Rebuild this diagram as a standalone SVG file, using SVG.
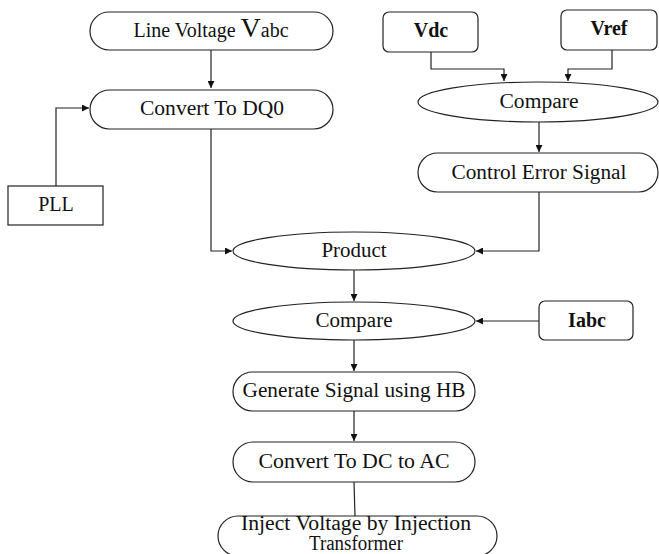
<svg xmlns="http://www.w3.org/2000/svg" width="659" height="554" viewBox="0 0 659 554">
<style>
.s{fill:#fff;stroke:#222;stroke-width:1.2}
.t{font-family:"Liberation Serif","Times New Roman",serif;font-size:20px;fill:#111;text-anchor:middle}
.b{font-weight:bold}
.c{fill:none;stroke:#222;stroke-width:1.2}
</style>
<defs>
<marker id="a" viewBox="0 0 10 10" refX="10" refY="5" markerWidth="7" markerHeight="7" markerUnits="userSpaceOnUse" orient="auto">
<path d="M0,0 L10,5 L0,10 z" fill="#111"/>
</marker>
</defs>
<rect width="659" height="554" fill="#fff"/>
<g id="connectors">
<path class="c" d="M211,50 V88" marker-end="url(#a)"/>
<path class="c" d="M56,186 V108 H89" marker-end="url(#a)"/>
<path class="c" d="M431,52 V69 H504 V81" marker-end="url(#a)"/>
<path class="c" d="M612,50 V69 H568 V81" marker-end="url(#a)"/>
<path class="c" d="M539,122 V152" marker-end="url(#a)"/>
<path class="c" d="M211,129 V251 H232" marker-end="url(#a)"/>
<path class="c" d="M539,192 V251 H476" marker-end="url(#a)"/>
<path class="c" d="M354,270 V301" marker-end="url(#a)"/>
<path class="c" d="M539,321 H476" marker-end="url(#a)"/>
<path class="c" d="M354,340 V371" marker-end="url(#a)"/>
<path class="c" d="M354,411 V441" marker-end="url(#a)"/>
<path class="c" d="M354,482 L355,516"/>
</g>
<g id="line-voltage">
<rect class="s" x="90" y="12" width="243" height="38" rx="19"/>
<text class="t" x="211" y="37" font-size="21"><tspan>Line Voltage </tspan><tspan font-size="28">V</tspan><tspan>abc</tspan></text>
</g>
<g id="convert-dq0">
<rect class="s" x="90" y="90" width="243" height="39" rx="19.5"/>
<text class="t" x="212" y="115" textLength="144" lengthAdjust="spacingAndGlyphs">Convert To DQ0</text>
</g>
<g id="pll">
<rect class="s" x="8" y="186" width="95" height="39"/>
<text class="t" x="56" y="211">PLL</text>
</g>
<g id="vdc">
<rect class="s" x="383" y="12" width="95" height="40" rx="6"/>
<text class="t b" x="431" y="37">Vdc</text>
</g>
<g id="vref">
<rect class="s" x="561" y="10" width="96" height="40" rx="6"/>
<text class="t b" x="609" y="35">Vref</text>
</g>
<g id="compare-top">
<ellipse class="s" cx="538" cy="102" rx="120" ry="20"/>
<text class="t" x="539" y="108" textLength="79" lengthAdjust="spacingAndGlyphs">Compare</text>
</g>
<g id="control-error">
<rect class="s" x="418" y="153" width="240" height="39" rx="19.5"/>
<text class="t" x="539" y="179" textLength="175" lengthAdjust="spacingAndGlyphs">Control Error Signal</text>
</g>
<g id="product">
<ellipse class="s" cx="354" cy="251" rx="121" ry="19"/>
<text class="t" x="354" y="257" textLength="65" lengthAdjust="spacingAndGlyphs">Product</text>
</g>
<g id="compare-bottom">
<ellipse class="s" cx="354" cy="321" rx="121" ry="19"/>
<text class="t" x="354" y="327" textLength="77" lengthAdjust="spacingAndGlyphs">Compare</text>
</g>
<g id="iabc">
<rect class="s" x="539" y="301" width="94" height="39" rx="6"/>
<text class="t b" x="587" y="327">Iabc</text>
</g>
<g id="generate">
<rect class="s" x="233" y="372" width="242" height="39" rx="19.5"/>
<text class="t" x="354" y="397" textLength="223" lengthAdjust="spacingAndGlyphs">Generate Signal using HB</text>
</g>
<g id="convert-dc-ac">
<rect class="s" x="233" y="442" width="242" height="40" rx="20"/>
<text class="t" x="354" y="468" textLength="191" lengthAdjust="spacingAndGlyphs">Convert To DC to AC</text>
</g>
<g id="inject">
<rect class="s" x="218" y="516" width="279" height="40" rx="20"/>
<text class="t" x="356" y="530" font-size="16" textLength="230" lengthAdjust="spacingAndGlyphs">Inject Voltage by Injection</text>
<text class="t" x="356" y="550" font-size="16" textLength="94" lengthAdjust="spacingAndGlyphs">Transformer</text>
</g>
</svg>
